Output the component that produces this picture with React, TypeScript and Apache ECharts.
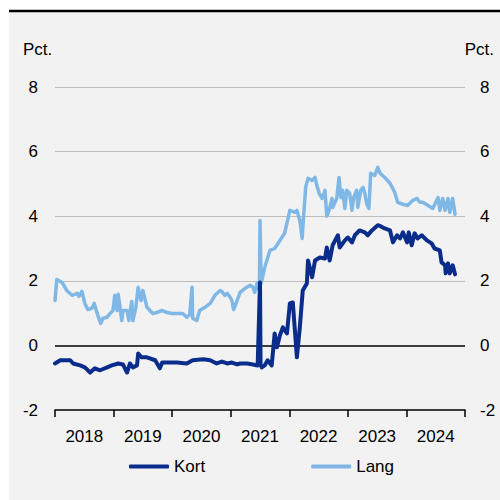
import React, { useEffect, useRef } from "react";
import * as echarts from "echarts";

const years = ["2018", "2019", "2020", "2021", "2022", "2023", "2024"];
const yTicks = [-2, 0, 2, 4, 6, 8];

const kortT = [
  2018.0, 2018.09, 2018.26, 2018.31, 2018.43, 2018.51, 2018.6, 2018.68, 2018.77, 2018.89, 2018.97,
  2019.08, 2019.16, 2019.23, 2019.28, 2019.33, 2019.4, 2019.42, 2019.48, 2019.57, 2019.71, 2019.79,
  2019.83, 2019.93, 2020.08, 2020.25, 2020.35, 2020.53, 2020.65, 2020.76, 2020.85, 2020.94, 2021.02,
  2021.11, 2021.16, 2021.28, 2021.38, 2021.46, 2021.5, 2021.51, 2021.53, 2021.58, 2021.63, 2021.7,
  2021.75, 2021.79, 2021.84, 2021.89, 2021.96, 2022.01, 2022.06, 2022.13, 2022.18, 2022.23, 2022.3,
  2022.32, 2022.39, 2022.44, 2022.52, 2022.61, 2022.64, 2022.69, 2022.74, 2022.83, 2022.86, 2022.95,
  2023.0, 2023.07, 2023.12, 2023.2, 2023.29, 2023.34, 2023.41, 2023.51, 2023.55, 2023.63, 2023.72,
  2023.77, 2023.84, 2023.89, 2023.94, 2024.01, 2024.04, 2024.09, 2024.14, 2024.19, 2024.26, 2024.35,
  2024.43, 2024.48, 2024.57, 2024.6, 2024.66, 2024.67, 2024.71, 2024.74, 2024.79, 2024.83,
];
const kortV = [
  -0.56, -0.46, -0.46, -0.56, -0.62, -0.68, -0.84, -0.71, -0.77, -0.68, -0.62,
  -0.56, -0.59, -0.84, -0.56, -0.68, -0.62, -0.25, -0.37, -0.37, -0.46, -0.71,
  -0.53, -0.53, -0.53, -0.56, -0.46, -0.43, -0.46, -0.56, -0.5, -0.56, -0.53,
  -0.59, -0.56, -0.56, -0.59, -0.62, 1.95, -0.6, -0.68, -0.62, -0.46, -0.62,
  0.37, -0.06, 0.31, 0.56, 0.37, 1.3, 1.33, -0.37, 0.56, 1.7, 1.92,
  2.63, 2.11, 2.63, 2.72, 2.69, 3.03, 2.63, 3.1, 3.41, 3.03, 3.25,
  3.34, 3.19, 3.41, 3.56, 3.5, 3.41, 3.56, 3.72, 3.7, 3.62, 3.56,
  3.19, 3.41, 3.31, 3.5, 3.19, 3.5, 3.1, 3.47, 3.31, 3.41, 3.25,
  3.16, 3.0, 2.94, 2.57, 2.48, 2.23, 2.54, 2.23, 2.48, 2.2,
];

const langT = [
  2018.0, 2018.03, 2018.12, 2018.2, 2018.29, 2018.38, 2018.41, 2018.46, 2018.51, 2018.56, 2018.63,
  2018.67, 2018.72, 2018.78, 2018.82, 2018.89, 2018.94, 2018.99, 2019.02, 2019.06, 2019.08, 2019.14,
  2019.16, 2019.23, 2019.26, 2019.31, 2019.33, 2019.38, 2019.42, 2019.47, 2019.5, 2019.57, 2019.62,
  2019.67, 2019.74, 2019.83, 2019.91, 2020.01, 2020.13, 2020.18, 2020.25, 2020.3, 2020.34, 2020.35,
  2020.42, 2020.47, 2020.56, 2020.65, 2020.73, 2020.82, 2020.85, 2020.9, 2020.94, 2020.99, 2021.02,
  2021.05, 2021.11, 2021.16, 2021.24, 2021.33, 2021.38, 2021.41, 2021.45, 2021.46, 2021.49, 2021.5,
  2021.52, 2021.58, 2021.67, 2021.75, 2021.84, 2021.92, 2022.01, 2022.1, 2022.13, 2022.18, 2022.22,
  2022.23, 2022.28, 2022.32, 2022.39, 2022.44, 2022.47, 2022.51, 2022.56, 2022.61, 2022.64, 2022.68,
  2022.73, 2022.74, 2022.81, 2022.85, 2022.88, 2022.91, 2022.95, 2022.98, 2023.03, 2023.07, 2023.1,
  2023.15, 2023.17, 2023.22, 2023.26, 2023.29, 2023.32, 2023.36, 2023.39, 2023.46, 2023.51, 2023.55,
  2023.63, 2023.72, 2023.8, 2023.85, 2023.94, 2024.02, 2024.11, 2024.18, 2024.23, 2024.28, 2024.37,
  2024.45, 2024.54, 2024.57, 2024.62, 2024.66, 2024.71, 2024.74, 2024.79, 2024.83,
];
const langV = [
  1.39, 2.04, 1.95, 1.7, 1.55, 1.61, 1.52, 1.67, 1.3, 1.11, 1.15,
  1.3, 0.99, 0.68, 0.84, 0.87, 0.99, 1.08, 1.55, 1.08, 1.58, 0.77,
  1.08, 1.08, 0.77, 1.36, 0.77, 1.18, 1.8, 1.39, 1.7, 1.18, 1.08,
  0.99, 1.02, 1.08, 1.02, 0.99, 0.99, 0.99, 0.87, 0.95, 1.8, 0.84,
  0.77, 1.08, 1.18, 1.3, 1.55, 1.7, 1.67, 1.55, 1.61, 1.49, 1.39,
  1.11, 1.39, 1.64, 1.76, 1.86, 1.8, 1.64, 1.92, 1.76, 1.86, 3.87,
  1.92, 2.41, 2.94, 3.0, 3.25, 3.47, 4.18, 4.12, 4.18, 3.87, 3.31,
  3.62, 4.9, 5.17, 5.11, 5.2, 4.95, 4.71, 4.55, 4.8, 4.0, 4.18,
  4.55, 4.27, 4.55, 5.2, 4.58, 4.8, 4.24, 4.8, 4.71, 4.18, 4.58,
  4.8, 4.27, 4.8, 4.89, 4.71, 4.4, 4.24, 5.33, 5.26, 5.51, 5.33,
  5.2, 5.02, 4.74, 4.43, 4.37, 4.33, 4.49, 4.55, 4.43, 4.43, 4.33,
  4.24, 4.58, 4.18, 4.55, 4.18, 4.55, 4.12, 4.55, 4.06,
];

const FONT = "'Liberation Sans', Arial, sans-serif";
const DARK = "#0a2d8c";
const LIGHT = "#7fb8e6";

export default function App() {
  const ref = useRef<HTMLDivElement>(null);
  useEffect(() => {
    if (!ref.current) return;
    const chart = echarts.init(ref.current, undefined, { renderer: "svg" });
    const kortData = kortT.map((t, i) => [t, kortV[i]]);
    const langData = langT.map((t, i) => [t, langV[i]]);
    chart.setOption({
      animation: false,
      backgroundColor: "#ffffff",
      textStyle: { fontFamily: FONT },
      grid: { left: 55, right: 35, top: 87, bottom: 90, containLabel: false },
      graphic: [
        { type: "rect", z: -10, shape: { x: 9, y: 10, width: 491, height: 490 }, style: { fill: "#f2f2f2" } },
        { type: "line", z: 10, shape: { x1: 9, y1: 11, x2: 500, y2: 11 }, style: { stroke: "#000", lineWidth: 2.5 } },
        { type: "text", x: 23, y: 49, style: { text: "Pct.", fontSize: 17, fontFamily: FONT, fill: "#000", textAlign: "left", textVerticalAlign: "middle" } },
        { type: "text", x: 494, y: 49, style: { text: "Pct.", fontSize: 17, fontFamily: FONT, fill: "#000", textAlign: "right", textVerticalAlign: "middle" } },
      ],
      legend: {
        left: 129,
        top: 458,
        padding: 0,
        itemWidth: 40,
        itemHeight: 4,
        itemGap: 106,
        icon: "roundRect",
        textStyle: { fontSize: 17, color: "#000", fontFamily: FONT },
        data: ["Kort", "Lang"],
      },
      xAxis: [
        {
          type: "value",
          min: 2018,
          max: 2025,
          interval: 1,
          axisLine: { show: true, onZero: false, lineStyle: { color: "#000", width: 1.5 } },
          axisTick: { show: true, length: 7, inside: false, lineStyle: { color: "#000", width: 1.5 } },
          axisLabel: { show: false },
          splitLine: { show: false },
        },
        {
          type: "category",
          data: years,
          position: "bottom",
          boundaryGap: true,
          axisLine: { show: false, onZero: false },
          axisTick: { show: false },
          axisLabel: { fontSize: 17, color: "#000", margin: 18, fontFamily: FONT },
          splitLine: { show: false },
        },
      ],
      yAxis: [
        {
          type: "value",
          min: yTicks[0],
          max: yTicks[yTicks.length - 1],
          interval: 2,
          position: "left",
          axisLine: { show: false },
          axisTick: { show: false },
          axisLabel: { fontSize: 17, color: "#000", margin: 17, fontFamily: FONT },
          splitLine: { show: true, lineStyle: { color: ["transparent", "transparent", "#bdbdbd", "#bdbdbd", "#bdbdbd", "#bdbdbd"], width: 1.2 } },
        },
        {
          type: "value",
          min: yTicks[0],
          max: yTicks[yTicks.length - 1],
          interval: 2,
          position: "right",
          axisLine: { show: false },
          axisTick: { show: false },
          axisLabel: { fontSize: 17, color: "#000", margin: 15, fontFamily: FONT },
          splitLine: { show: false },
        },
      ],
      series: [
        {
          name: "Lang",
          type: "line",
          xAxisIndex: 0,
          yAxisIndex: 0,
          data: langData,
          showSymbol: false,
          symbol: "none",
          lineStyle: { color: LIGHT, width: 3.5, join: "round", cap: "round" },
          itemStyle: { color: LIGHT },
          z: 2,
        },
        {
          name: "Kort",
          type: "line",
          xAxisIndex: 0,
          yAxisIndex: 0,
          data: kortData,
          showSymbol: false,
          symbol: "none",
          lineStyle: { color: DARK, width: 4, join: "round", cap: "round" },
          itemStyle: { color: DARK },
          z: 3,
          markLine: {
            silent: true,
            symbol: "none",
            label: { show: false },
            lineStyle: { color: "#000", width: 1.5, type: "solid" },
            data: [{ yAxis: 0 }],
            z: 1,
          },
        },
      ],
    });
    return () => chart.dispose();
  }, []);
  return (
    <div
      ref={ref}
      style={{ position: "absolute", left: 0, top: 0, width: 500, height: 500 }}
    />
  );
}
